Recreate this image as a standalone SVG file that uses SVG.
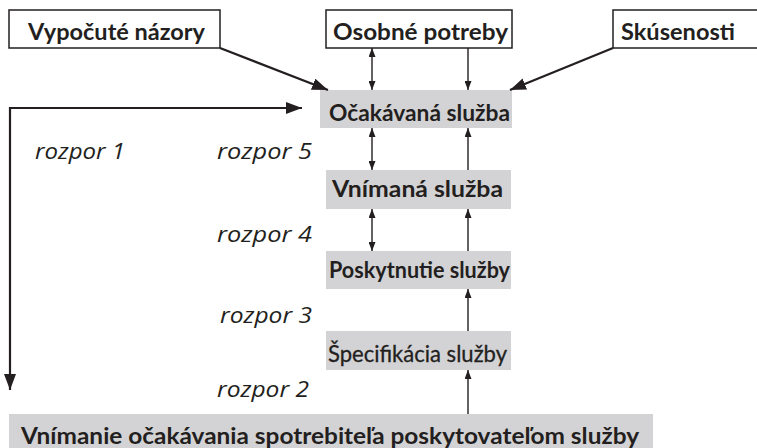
<svg xmlns="http://www.w3.org/2000/svg" width="757" height="448" viewBox="0 0 757 448">
  <defs>
    <style>
      .box { fill: #ffffff; stroke: #231f20; stroke-width: 1.5; }
      .gray { fill: #d3d3d5; stroke: none; }
      .lbl { font-family: Lato, "Open Sans", sans-serif; font-weight: bold; font-size: 22px; fill: #231f20; }
      .stage { font-family: Lato, "Open Sans", sans-serif; font-weight: bold; font-size: 22px; fill: #231f20; }
      .cond { font-family: Lato, "Open Sans", sans-serif; font-size: 23px; fill: #231f20; stroke: #231f20; stroke-width: 0.3; }
      .gap { font-family: "Open Sans", "Noto Sans", sans-serif; font-style: italic; font-size: 21px; fill: #231f20; }
      .thin { stroke: #231f20; stroke-width: 1.4; fill: none; }
      .thick { stroke: #231f20; stroke-width: 2.2; fill: none; }
    </style>
    <marker id="ah" viewBox="0 0 10 10" refX="10" refY="5" markerWidth="9" markerHeight="7" markerUnits="userSpaceOnUse" orient="auto-start-reverse" preserveAspectRatio="none">
      <path d="M0,0 L10,5 L0,10 z" fill="#231f20"/>
    </marker>
    <marker id="ahBig" viewBox="0 0 10 10" refX="10" refY="5" markerWidth="16" markerHeight="12" markerUnits="userSpaceOnUse" orient="auto" preserveAspectRatio="none">
      <path d="M0,0 L10,5 L0,10 z" fill="#231f20"/>
    </marker>
  </defs>

  <!-- input boxes -->
  <g id="vypocute-nazory">
    <rect class="box" x="9" y="10" width="211" height="38"/>
    <text class="lbl" x="28" y="40" textLength="177" lengthAdjust="spacingAndGlyphs">Vypočuté názory</text>
  </g>
  <g id="osobne-potreby">
    <rect class="box" x="326" y="10" width="186" height="38"/>
    <text class="lbl" x="333" y="40" textLength="175" lengthAdjust="spacingAndGlyphs">Osobné potreby</text>
  </g>
  <g id="skusenosti">
    <rect class="box" x="613" y="10" width="150" height="38"/>
    <text class="lbl" x="621" y="40" textLength="114" lengthAdjust="spacingAndGlyphs">Skúsenosti</text>
  </g>

  <!-- service stages -->
  <g id="ocakavana-sluzba">
    <rect class="gray" x="320" y="90" width="192" height="38"/>
    <text class="stage" x="329" y="121" textLength="181" lengthAdjust="spacingAndGlyphs">Očakávaná služba</text>
  </g>
  <g id="vnimana-sluzba">
    <rect class="gray" x="326" y="170" width="185" height="39"/>
    <text class="stage" x="332" y="197" textLength="171" lengthAdjust="spacingAndGlyphs">Vnímaná služba</text>
  </g>
  <g id="poskytnutie-sluzby">
    <rect class="gray" x="326" y="251" width="185" height="38"/>
    <text class="stage" x="329" y="278" textLength="181" lengthAdjust="spacingAndGlyphs">Poskytnutie služby</text>
  </g>
  <g id="specifikacia-sluzby">
    <rect class="gray" x="326" y="331" width="185" height="39"/>
    <text class="cond" x="328" y="362" textLength="179" lengthAdjust="spacingAndGlyphs">Špecifikácia služby</text>
  </g>
  <g id="vnimanie-ocakavania">
    <rect class="gray" x="9" y="414" width="644" height="40"/>
    <text class="stage" x="21" y="444" font-size="25" textLength="618" lengthAdjust="spacingAndGlyphs">Vnímanie očakávania spotrebiteľa poskytovateľom služby</text>
  </g>

  <!-- gap labels -->
  <g id="gap-labels">
    <text class="gap" x="35" y="159" textLength="90" lengthAdjust="spacingAndGlyphs">rozpor 1</text>
    <text class="gap" x="217" y="159" textLength="95" lengthAdjust="spacingAndGlyphs">rozpor 5</text>
    <text class="gap" x="217" y="242" textLength="95" lengthAdjust="spacingAndGlyphs">rozpor 4</text>
    <text class="gap" x="220" y="323" textLength="92" lengthAdjust="spacingAndGlyphs">rozpor 3</text>
    <text class="gap" x="217" y="397" textLength="92" lengthAdjust="spacingAndGlyphs">rozpor 2</text>
  </g>

  <!-- connectors -->
  <g id="connectors">
    <line class="thick" x1="220" y1="48" x2="328" y2="90" marker-end="url(#ahBig)"/>
    <line class="thick" x1="613" y1="48" x2="510" y2="90" marker-end="url(#ahBig)"/>
    <path class="thick" d="M302,108 H10 V390" marker-end="url(#ahBig)"/>
    <path class="thick" d="M10,108 H302" marker-end="url(#ahBig)"/>

    <line class="thin" x1="372" y1="48" x2="372" y2="90" marker-start="url(#ah)" marker-end="url(#ah)"/>
    <line class="thin" x1="468" y1="48" x2="468" y2="90" marker-end="url(#ah)"/>

    <line class="thin" x1="372" y1="128" x2="372" y2="170" marker-start="url(#ah)" marker-end="url(#ah)"/>
    <line class="thin" x1="468" y1="170" x2="468" y2="128" marker-end="url(#ah)"/>

    <line class="thin" x1="372" y1="209" x2="372" y2="251" marker-start="url(#ah)" marker-end="url(#ah)"/>
    <line class="thin" x1="468" y1="251" x2="468" y2="209" marker-end="url(#ah)"/>

    <line class="thin" x1="468" y1="331" x2="468" y2="289" marker-end="url(#ah)"/>
    <line class="thin" x1="468" y1="414" x2="468" y2="370" marker-end="url(#ah)"/>
  </g>
</svg>
